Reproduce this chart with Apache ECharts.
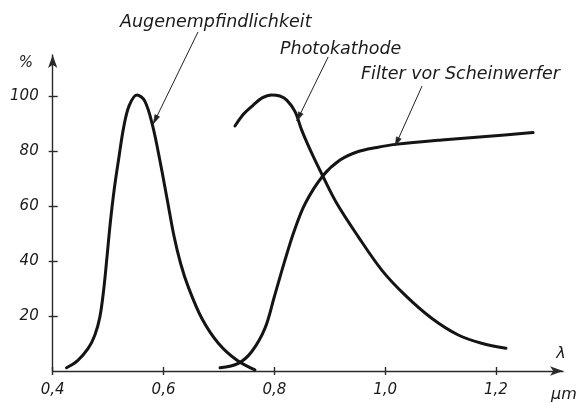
<!DOCTYPE html>
<html>
<head>
<meta charset="utf-8">
<script src="https://cdn.jsdelivr.net/npm/echarts@6/dist/echarts.min.js"></script>
<style>
html,body{margin:0;padding:0;background:#fff;}
#c{width:581px;height:403px;}
</style>
</head>
<body>
<div id="c"></div>
<script>
// wavelength in µm, relative value in %
const eyeLambda = [0.425,0.445,0.464,0.476,0.485,0.492,0.498,0.504,0.511,0.519,0.528,0.538,0.552,0.566,0.580,0.594,0.607,0.619,0.631,0.6448,0.669,0.699,0.732,0.765];
const eyeValue  = [1.2,3.8,8.2,13.0,19.5,29.5,41.5,54.0,66.0,77.0,88.5,96.5,100.4,98.2,89.5,76.0,62.0,49.0,39.0,30.5,19.2,10.1,4.0,0.4];

const photoLambda = [0.729,0.745,0.762,0.778,0.795,0.810,0.8224,0.8374,0.8494,0.8675,0.8874,0.9126,0.9516,0.9939,1.036,1.084,1.132,1.174,1.218];
const photoValue  = [89.1,93.5,96.7,99.3,100.4,100.0,98.5,94.3,87.6,79.2,70.9,61.0,48.8,36.7,27.6,19.2,13.1,10.1,8.3];

const filterLambda = [0.702,0.735,0.759,0.783,0.800,0.818,0.836,0.856,0.8874,0.9186,0.9516,0.985,1.018,1.102,1.216,1.267];
const filterValue  = [1.2,2.8,7.0,15.5,27.0,39.5,51.0,61.0,70.9,76.7,79.8,81.3,82.4,84.0,85.8,86.7];

const xTicks = [0.4,0.6,0.8,1.0,1.2];
const yTicks = [20,40,60,80,100];
const seriesNames = ['Augenempfindlichkeit','Photokathode','Filter vor Scheinwerfer'];

function pairs(xs, ys){ return xs.map((x,i)=>[x, ys[i]]); }

const FONT = 'DejaVu Sans';
const INK = '#141414';

const chart = echarts.init(document.getElementById('c'), null, {renderer:'canvas'});

const gridLeft = 52.7, gridBottom = 32, gridTop = 55, gridRight = 18;

function lineSeries(name, data){
  return {
    name, type:'line', data, smooth:0.35, symbol:'none', clip:false,
    lineStyle:{color:INK, width:3, cap:'round', join:'round'},
    xAxisIndex:0, yAxisIndex:0, z:3
  };
}

const baseX = {
  type:'value', min:0.4, max:1.321, interval:0.2,
  splitLine:{show:false}
};
const baseY = {
  type:'value', min:0, max:114.9, interval:20,
  splitLine:{show:false}
};

chart.setOption({
  animation:false,
  backgroundColor:'#ffffff',
  grid:{left:gridLeft, right:gridRight, top:gridTop, bottom:gridBottom},
  xAxis:[
    Object.assign({}, baseX, {
      position:'bottom',
      axisLine:{show:true, lineStyle:{color:'#2a2a2a', width:1.4}, symbol:['none','arrow'], symbolSize:[7,13]},
      axisTick:{show:true, length:4, inside:false, customValues:xTicks, lineStyle:{color:'#2a2a2a', width:1.4}},
      axisLabel:{show:true, customValues:xTicks, margin:12, color:'#1a1a1a',
        fontFamily:FONT, fontStyle:'italic', fontSize:15,
        formatter:v=>v.toFixed(1).replace('.',',')}
    }),
    Object.assign({}, baseX, {
      position:'bottom',
      axisLine:{show:false},
      axisTick:{show:true, length:4, inside:true, customValues:xTicks, lineStyle:{color:'#2a2a2a', width:1.4}},
      axisLabel:{show:false}
    })
  ],
  yAxis:[
    Object.assign({}, baseY, {
      position:'left',
      axisLine:{show:true, lineStyle:{color:'#2a2a2a', width:1.4}, symbol:['none','arrow'], symbolSize:[7,13]},
      axisTick:{show:true, length:4, inside:false, customValues:yTicks, lineStyle:{color:'#2a2a2a', width:1.4}},
      axisLabel:{show:true, customValues:yTicks, margin:14, color:'#1a1a1a',
        fontFamily:FONT, fontStyle:'italic', fontSize:15}
    }),
    Object.assign({}, baseY, {
      position:'left',
      axisLine:{show:false},
      axisTick:{show:true, length:5, inside:true, customValues:yTicks, lineStyle:{color:'#2a2a2a', width:1.4}},
      axisLabel:{show:false}
    })
  ],
  series:[
    lineSeries(seriesNames[0], pairs(eyeLambda, eyeValue)),
    lineSeries(seriesNames[1], pairs(photoLambda, photoValue)),
    lineSeries(seriesNames[2], pairs(filterLambda, filterValue))
  ]
});

// annotations: leader arrows pointing onto the curves (data coords)
const leaders = [
  {from:[0.6623,123.3], to:[0.5816,89.9]},
  {from:[0.8972,114.2], to:[0.8406,90.9]},
  {from:[1.0666,103.6], to:[1.0180,81.8]}
];
const graphics = [];
leaders.forEach(l=>{
  const p0 = chart.convertToPixel({gridIndex:0}, l.from);
  const p1 = chart.convertToPixel({gridIndex:0}, l.to);
  const dx = p1[0]-p0[0], dy = p1[1]-p0[1];
  const len = Math.hypot(dx,dy), ux = dx/len, uy = dy/len;
  const hl = 9, hw = 2.6;
  const bx = p1[0]-ux*hl, by = p1[1]-uy*hl;
  graphics.push({type:'line', shape:{x1:p0[0],y1:p0[1],x2:p1[0],y2:p1[1]}, style:{stroke:'#222', lineWidth:1}, z:10});
  graphics.push({type:'polygon', shape:{points:[[p1[0],p1[1]],[bx-uy*hw,by+ux*hw],[bx+uy*hw,by-ux*hw]]}, style:{fill:'#222', stroke:'#222', lineWidth:0.6}, z:10});
});
const labelStyle = {fill:'#1a1a1a', font:'italic 17.5px "DejaVu Sans"', verticalAlign:'middle', align:'left'};
graphics.push({type:'text', x:120, y:22, style:Object.assign({text:seriesNames[0]}, labelStyle), z:10});
graphics.push({type:'text', x:280, y:49, style:Object.assign({text:seriesNames[1]}, labelStyle), z:10});
graphics.push({type:'text', x:361, y:74, style:Object.assign({text:seriesNames[2]}, labelStyle), z:10});
graphics.push({type:'text', x:26, y:63, style:{text:'%', fill:'#1a1a1a', font:'italic 15px "DejaVu Sans"', align:'center', verticalAlign:'middle'}, z:10});
graphics.push({type:'text', x:561, y:354, style:{text:'λ', fill:'#1a1a1a', font:'italic 16px "DejaVu Sans"', align:'center', verticalAlign:'middle'}, z:10});
graphics.push({type:'text', x:564, y:395, style:{text:'μm', fill:'#1a1a1a', font:'italic 16px "DejaVu Sans"', align:'center', verticalAlign:'middle'}, z:10});
chart.setOption({graphic:graphics});
</script>
</body>
</html>
